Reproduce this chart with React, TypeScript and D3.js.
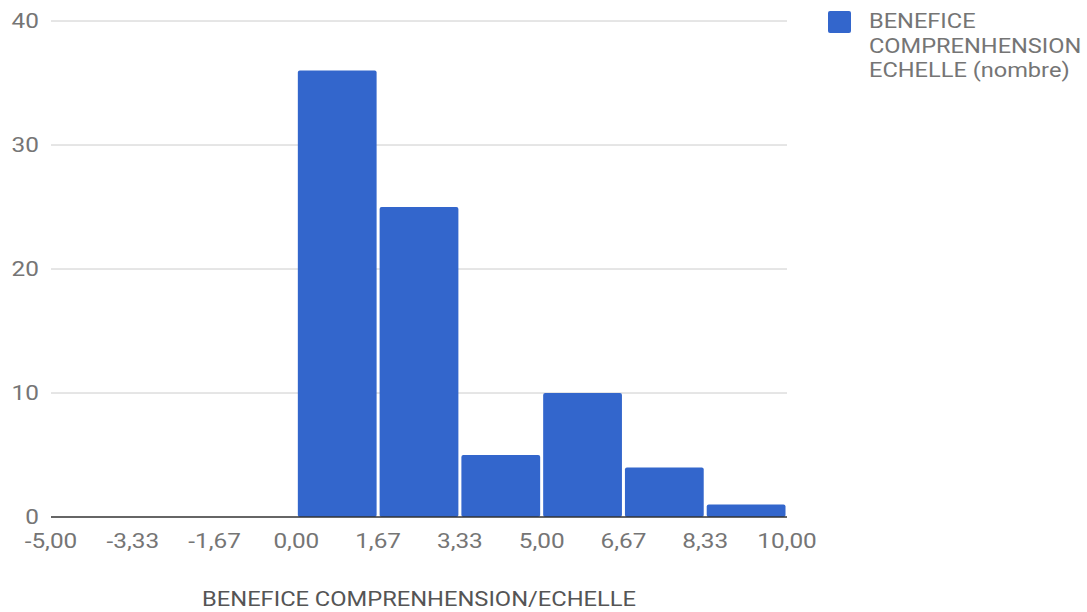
import React from "react";
import * as d3 from "d3";

const binEdges = [0, 1.6667, 3.3333, 5, 6.6667, 8.3333, 10];
const counts = [36, 25, 5, 10, 4, 1];
const xTickValues = [-5, -3.3333, -1.6667, 0, 1.6667, 3.3333, 5, 6.6667, 8.3333, 10];
const xTickLabels = ["-5,00", "-3,33", "-1,67", "0,00", "1,67", "3,33", "5,00", "6,67", "8,33", "10,00"];
const yTickValues = [0, 10, 20, 30, 40];
const yTickLabels = ["0", "10", "20", "30", "40"];
const seriesName = ["BENEFICE", "COMPRENHENSION", "ECHELLE (nombre)"];
const axisTitle = "BENEFICE COMPRENHENSION/ECHELLE";

const W = 1087;
const H = 612;
const FONT = "Roboto, 'Noto Sans', sans-serif";
const SX = 1.16;

function T(props: {
  x: number;
  y: number;
  anchor?: "start" | "middle" | "end";
  size: number;
  fill: string;
  sx?: number;
  dy?: string;
  children: React.ReactNode;
}) {
  const sx = props.sx ?? SX;
  return (
    <text
      transform={`translate(${props.x},${props.y}) scale(${sx},1)`}
      textAnchor={props.anchor ?? "start"}
      fontSize={props.size}
      fill={props.fill}
      dy={props.dy}
    >
      {props.children}
    </text>
  );
}

export default function App() {
  const x = d3.scaleLinear().domain([-5, 10]).range([51, 787]);
  const y = d3.scaleLinear().domain([0, 40]).range([517, 21]);
  const bins = counts.map((c, i) => ({ x0: binEdges[i], x1: binEdges[i + 1], c }));

  return (
    <svg
      width={W}
      height={H}
      style={{ position: "absolute", left: 0, top: 0, display: "block", background: "#fff" }}
      fontFamily={FONT}
    >
      {yTickValues.map((v, i) =>
        v === 0 ? null : (
          <line key={"g" + i} x1={x(-5)} x2={x(10)} y1={y(v)} y2={y(v)} stroke="#cccccc" strokeWidth={1} />
        )
      )}
      {bins.map((b, i) => (
        <rect
          key={"b" + i}
          x={x(b.x0) + 1.5}
          y={y(b.c)}
          width={x(b.x1) - x(b.x0) - 3}
          height={y(0) - y(b.c)}
          rx={2}
          ry={2}
          fill="#3366cc"
        />
      ))}
      <line x1={x(-5)} x2={x(10)} y1={y(0)} y2={y(0)} stroke="#333333" strokeWidth={1.5} />
      {yTickValues.map((v, i) => (
        <T key={"yl" + i} x={39} y={y(v)} dy="0.35em" anchor="end" size={21} fill="#757575">
          {yTickLabels[i]}
        </T>
      ))}
      {xTickValues.map((v, i) => (
        <T key={"xl" + i} x={x(v)} y={548} anchor="middle" size={21} fill="#757575">
          {xTickLabels[i]}
        </T>
      ))}
      <T x={(x(-5) + x(10)) / 2} y={606} anchor="middle" size={20} sx={1.185} fill="#555555">
        {axisTitle}
      </T>
      <rect x={828} y={11} width={23} height={22} rx={2} fill="#3366cc" />
      {seriesName.map((s, i) => (
        <T key={"lg" + i} x={869} y={28 + i * 24.5} size={20} sx={1.18} fill="#757575">
          {s}
        </T>
      ))}
    </svg>
  );
}
